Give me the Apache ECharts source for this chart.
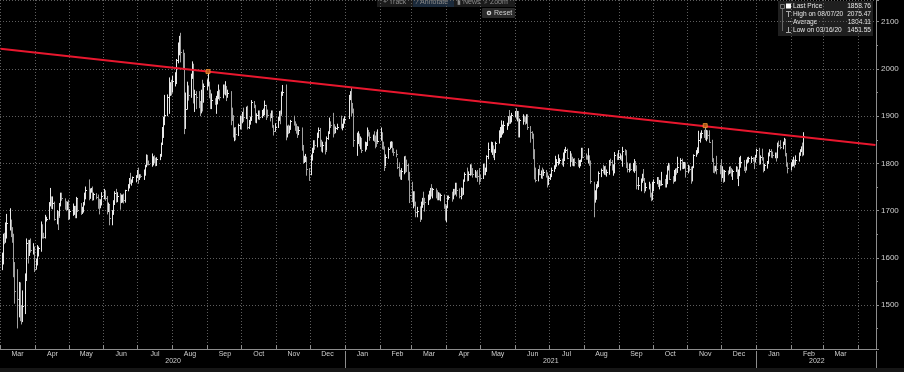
<!DOCTYPE html>
<html><head><meta charset="utf-8">
<script src="https://cdn.jsdelivr.net/npm/echarts@6/dist/echarts.min.js"></script>
<style>html,body{margin:0;padding:0;background:#000;}#c{width:904px;height:372px;}</style>
</head><body><div id="c"></div>
<script>
// ---------- tick labels ----------
const monthNames = ['Jan','Feb','Mar','Apr','May','Jun','Jul','Aug','Sep','Oct','Nov','Dec'];
const yearLabels = ['2020','2021','2022'];
const axisStart = '2020-03-01';
const axisEnd = '2022-04-16';
const firstBarDate = '2020-03-02'; // one value per weekday from here (null = no trading)

// ---------- daily closes (weekday rows) ----------
const closes = [
1595,1640,1637,1670,1673, 1676,1650,1642,1576,1530, 1513,1526,1477,1470,1498, 1553,1631,1611,1629,1617,
1621,1577,1591,1613,1620, 1663,1647,1645,1683,1683, 1714,1727,1716,1717,1683, 1695,1686,1714,1729,1726,
1713,1707,1714,1686,1700, 1701,1705,1686,1726,1702, 1697,1702,1716,1730,1743, 1731,1745,1746,1725,1735,
1729,1711,1708,1718,1730, 1740,1727,1700,1714,1684, 1698,1715,1737,1727,1730, 1725,1727,1727,1723,1743,
1754,1768,1761,1763,1771, 1772,1781,1770,1775,1774, 1783,1795,1809,1803,1799, 1803,1810,1808,1796,1810,
1817,1842,1871,1887,1902, 1941,1957,1970,1959,1975, 1976,2019,2037,2063,2035, 2028,1911,1915,1954,1944,
1985,2003,1929,1947,1940, 1929,1908,1953,1930,1964, 1968,1970,1943,1930,1934, 1931,1931,1946,1947,1940,
1957,1954,1960,1944,1950, 1912,1900,1863,1868,1862, 1881,1898,1887,1906,1899, 1913,1878,1888,1893,1930,
1922,1891,1902,1908,1899, 1905,1907,1924,1904,1902, 1901,1908,1877,1868,1878, 1894,1909,1903,1948,1951,
1862,1877,1866,1877,1889, 1887,1880,1870,1866,1871, 1837,1806,1810,1812,1788, 1777,1815,1830,1841,1839,
1863,1871,1839,1836,1840, 1827,1854,1864,1886,1881, 1872,1871,1875,1877,null, 1876,1877,1893,1895,null,
1943,1950,1918,1913,1849, 1850,1855,1846,1851,1828, 1839,1840,1871,1865,1855, 1855,1850,1844,1843,1847,
1860,1836,1834,1793,1814, 1831,1838,1842,1825,1824, 1819,1793,1776,1775,1784, 1808,1805,1797,1770,1734,
1723,1737,1711,1698,1700, 1683,1716,1726,1722,1719, 1731,1731,1745,1735,1745, 1738,1727,1734,1725,1733,
1712,1684,1708,1728,1729, 1728,1743,1737,1756,1744, 1732,1746,1736,1764,1777, 1770,1778,1793,1783,1777,
1780,1777,1774,1772,1769, 1792,1779,1785,1815,1831, 1836,1836,1815,1826,1844, 1867,1869,1870,1876,1881,
1881,1898,1896,1896,1903, 1906,1903,1908,1871,1891, 1899,1893,1888,1898,1877, 1866,1859,1812,1774,1764,
1782,1778,1779,1776,1781, 1780,1761,1770,1776,1787, 1792,1796,1803,1803,1808, 1806,1808,1825,1828,1812,
1814,1811,1803,1806,1802, 1797,1799,1806,1829,1814, 1813,1810,1812,1804,1763, 1729,1730,1752,1753,1780,
1787,1786,1787,1781,1781, 1805,1803,1790,1792,1818, 1810,1813,1815,1809,1827, 1823,1794,1788,1795,1788,
1794,1803,1794,1754,1754, 1764,1774,1768,1743,1750, 1751,1734,1726,1757,1761, 1769,1760,1762,1756,1757,
1754,1760,1793,1796,1768, 1765,1769,1783,1782,1792, 1807,1793,1798,1799,1783, 1793,1788,1769,1792,1818,
1824,1832,1849,1862,1865, 1863,1851,1869,1860,1846, 1806,1789,1788,1790,1788, 1785,1774,1782,1763,1783,
1779,1785,1783,1775,1783, 1787,1770,1778,1798,1804, 1791,1789,1803,1808,1811, 1811,1810,1805,1815,1829,
1801,1814,1810,1789,1797, 1801,1819,1826,1821,1817, 1819,1813,1840,1839,1835, 1843,1848,1819,1797,1791,
1797,1801,1807,1805,1808, 1820,1826,1833,1827,1858.76
];
// ---------- daily highs ----------
const highs = [
1610,1650,1652,1674,1692, 1704,1680,1664,1650,1590, 1575,1548,1547,1499,1530, 1566,1640,1637,1637,1640,
1630,1623,1597,1626,1623, 1676,1670,1652,1690,1686, 1717,1747,1729,1729,1718, 1700,1698,1715,1737,1737,
1725,1719,1718,1722,1702, 1714,1709,1709,1728,1724, 1715,1707,1717,1737,1750, 1765,1746,1747,1750,1737,
1736,1733,1724,1723,1738, 1745,1742,1730,1716,1712, 1700,1721,1740,1745,1738, 1736,1733,1733,1735,1743,
1755,1768,1779,1765,1771, 1774,1785,1790,1776,1776, 1786,1796,1818,1817,1805, 1820,1814,1816,1811,1812,
1819,1843,1876,1898,1944, 1945,1981,1971,1976,1984, 1992,2020,2055,2069,2075.47, 2040,2033,1949,1972,1964,
1989,2015,2010,1955,1952, 1952,1931,1955,1976,1968, 1977,1992,1972,1955,1947, 1937,1942,1952,1966,1955,
1966,1966,1973,1963,1955, 1952,1917,1901,1875,1876, 1883,1900,1900,1908,1917, 1919,1921,1891,1898,1933,
1931,1923,1905,1911,1911, 1912,1915,1932,1923,1913, 1905,1911,1911,1880,1884, 1898,1910,1911,1951,1965,
1966,1879,1881,1879,1891, 1900,1888,1883,1878,1877, 1875,1838,1815,1819,1813, 1789,1818,1832,1848,1848,
1864,1875,1874,1849,1845, 1845,1856,1867,1896,1888, 1906,1882,1877,1883,null, 1900,1883,1894,1899,null,
1944,1952,1959,1927,1915, 1864,1867,1862,1856,1853, 1845,1844,1875,1870,1865, 1860,1867,1858,1866,1871,
1875,1865,1845,1835,1818, 1833,1845,1846,1845,1831, 1828,1810,1801,1785,1789, 1814,1815,1807,1798,1781,
1760,1740,1740,1718,1707, 1708,1718,1726,1739,1726, 1733,1741,1747,1755,1747, 1746,1742,1738,1737,1735,
1733,1713,1710,1731,1731, 1739,1745,1745,1758,1758, 1746,1748,1747,1765,1780, 1790,1782,1797,1797,1789,
1785,1782,1785,1789,1775, 1798,1799,1790,1816,1843, 1845,1844,1837,1829,1845, 1869,1876,1890,1881,1889,
1885,1899,1912,1900,1906, 1910,1916,1910,1910,1894, 1903,1900,1897,1903,1903, 1878,1867,1862,1829,1790,
1787,1795,1784,1790,1786, 1785,1780,1773,1777,1790, 1795,1815,1808,1818,1810, 1809,1822,1829,1834,1830,
1825,1820,1813,1809,1810, 1810,1806,1807,1832,1832, 1820,1816,1831,1816,1805, 1760,1742,1755,1761,1782,
1788,1796,1793,1794,1786, 1806,1809,1806,1797,1823, 1820,1827,1820,1816,1834, 1829,1827,1801,1799,1800,
1800,1808,1804,1795,1770, 1767,1777,1787,1768,1758, 1760,1756,1737,1760,1765, 1770,1770,1764,1763,1781,
1766,1775,1794,1800,1797, 1772,1785,1788,1789,1813, 1810,1809,1802,1802,1801, 1796,1794,1792,1793,1818,
1827,1833,1868,1864,1869, 1870,1877,1870,1869,1869, 1849,1810,1794,1794,1815, 1796,1808,1793,1786,1785,
1784,1792,1793,1789,1786, 1793,1792,1786,1812,1815, 1806,1792,1807,1812,1813, 1814,1812,1812,1817,1830,
1832,1816,1830,1812,1798, 1804,1822,1829,1829,1824, 1822,1822,1843,1847,1848, 1845,1853,1851,1821,1801,
1801,1807,1813,1807,1816, 1822,1829,1835,1843,1865
];
// ---------- daily lows ----------
const lows = [
1575,1587,1630,1633,1642, 1659,1645,1633,1560,1504, 1451.55,1475,1467,1460,1465, 1482,1552,1589,1605,1612,
1608,1571,1576,1585,1604, 1614,1642,1642,1642,1678, 1682,1710,1705,1704,1680, 1672,1660,1688,1710,1722,
1703,1700,1702,1681,1683, 1690,1692,1685,1685,1698, 1692,1694,1697,1712,1725, 1723,1726,1739,1722,1723,
1725,1705,1693,1706,1712, 1725,1722,1693,1698,1670, 1670,1692,1715,1718,1719, 1703,1717,1718,1716,1718,
1742,1748,1757,1754,1760, 1761,1770,1758,1766,1770, 1766,1775,1793,1797,1797, 1794,1797,1801,1795,1796,
1808,1815,1840,1855,1882, 1901,1906,1944,1945,1951, 1964,1969,2013,2030,2015, 1999,1863,1874,1915,1934,
1940,1980,1928,1910,1916, 1918,1901,1907,1911,1931, 1956,1964,1939,1916,1916, 1925,1906,1926,1937,1934,
1939,1947,1945,1933,1940, 1882,1891,1856,1848,1850, 1859,1873,1873,1886,1889, 1895,1873,1874,1883,1891,
1918,1887,1886,1894,1893, 1897,1901,1903,1893,1898, 1890,1897,1877,1860,1868, 1876,1891,1884,1904,1944,
1850,1856,1863,1865,1872, 1881,1870,1864,1855,1861, 1828,1800,1802,1804,1775, 1764,1776,1807,1823,1830,
1835,1855,1836,1826,1824, 1820,1828,1851,1864,1876, 1856,1863,1865,1872,null, 1875,1871,1876,1885,null,
1895,1935,1901,1907,1836, 1817,1842,1837,1831,1823, 1826,1830,1838,1858,1849, 1849,1847,1833,1836,1845,
1849,1831,1830,1785,1795, 1811,1831,1834,1824,1817, 1814,1789,1773,1767,1766, 1778,1781,1783,1765,1717,
1719,1706,1710,1687,1687, 1677,1683,1707,1713,1699, 1713,1723,1725,1731,1727, 1727,1723,1723,1723,1721,
1705,1680,1677,1706,1724, 1720,1725,1733,1735,1731, 1727,1725,1732,1735,1762, 1763,1764,1775,1776,1771,
1771,1770,1762,1756,1762, 1768,1776,1776,1783,1810, 1824,1819,1813,1808,1823, 1843,1855,1856,1862,1865,
1872,1880,1884,1885,1888, 1899,1894,1890,1856,1856, 1883,1889,1883,1885,1872, 1845,1853,1810,1767,1761,
1763,1776,1769,1768,1775, 1771,1750,1755,1766,1772, 1783,1789,1794,1797,1800, 1797,1794,1806,1823,1810,
1794,1804,1796,1795,1795, 1794,1791,1795,1805,1812, 1809,1809,1801,1796,1758, 1687,1718,1724,1748,1751,
1772,1780,1777,1776,1773, 1777,1796,1786,1775,1780, 1808,1809,1809,1806,1794, 1818,1791,1782,1782,1785,
1784,1781,1785,1746,1745, 1742,1760,1764,1738,1742, 1746,1729,1721,1723,1742, 1757,1751,1746,1753,1754,
1750,1750,1757,1786,1766, 1758,1762,1763,1777,1781, 1786,1789,1789,1790,1771, 1780,1784,1758,1763,1791,
1815,1820,1823,1845,1854, 1855,1851,1848,1852,1845, 1804,1781,1780,1784,1778, 1778,1762,1770,1760,1763,
1776,1779,1780,1773,1766, 1783,1768,1753,1774,1792, 1785,1781,1786,1801,1803, 1802,1805,1789,1803,1813,
1798,1799,1807,1782,1785, 1790,1800,1816,1813,1812, 1812,1805,1812,1835,1831, 1831,1840,1816,1794,1780,
1786,1794,1795,1792,1798, 1805,1817,1825,1816,1818
];

// ---------- trend line, anchors, last price, legend ----------
const trendDates = ['2020-03-01', '2022-04-16'];
const trendValues = [2043, 1839];
const anchorDates = ['2020-09-01', '2021-11-16'];
const anchorValues = [1994.4, 1880];
const lastPrice = 1858.76;
const legendNames = ['Last Price', 'High on 08/07/20', 'Average', 'Low on 03/16/20'];
const legendValues = ['1858.76', '2075.47', '1804.11', '1451.55'];
const toolbarItems = ['+ Track', '\u2215 Annotate', '\u25AE News', '\u2315 Zoom'];

// ---------- calendar (category axis = every calendar day) ----------
function fmt(d) { return d.toISOString().slice(0, 10); }
const days = [];
for (let t = Date.parse(axisStart + 'T00:00:00Z'); t <= Date.parse(axisEnd + 'T00:00:00Z'); t += 86400000) days.push(fmt(new Date(t)));
const dayIndex = {};
days.forEach((d, i) => { dayIndex[d] = i; });
const barDays = [];
for (let t = Date.parse(firstBarDate + 'T00:00:00Z'); barDays.length < closes.length; t += 86400000) {
  const wd = new Date(t).getUTCDay();
  if (wd > 0 && wd < 6) barDays.push(fmt(new Date(t)));
}
const barData = [];
let prevClose = null;
closes.forEach((c, i) => {
  if (c == null) return;
  const up = prevClose == null || c >= prevClose ? 1 : 0;
  barData.push([dayIndex[barDays[i]], highs[i], lows[i], c, up]);
  prevClose = c;
});

const isMonthStart = (i) => days[i] && days[i].slice(8) === '01';
const isMonthLabel = (i) => days[i] && days[i].slice(8) === '16' && i < days.length - 1;
const yearStarts = yearLabels.map(y => Math.max(0, days.indexOf(y + '-01-01')));
const yearLabelIdx = yearStarts.map((s, k) => Math.floor((s + (k + 1 < yearStarts.length ? yearStarts[k + 1] : days.length)) / 2));
const isYearStart = (i) => days[i] && days[i].slice(5) === '01-01';

function renderBar(params, api) {
  const x = api.value(0);
  const pH = api.coord([x, api.value(1)]);
  const pL = api.coord([x, api.value(2)]);
  const pC = api.coord([x, api.value(3)]);
  const col = api.value(4) ? '#e8e8e8' : '#a0a0a0';
  const px = Math.round(pH[0]) + 0.5;
  const cy = Math.round(pC[1]) + 0.5;
  return {
    type: 'group',
    children: [
      { type: 'line', shape: { x1: px, y1: pH[1] - 0.5, x2: px, y2: pL[1] + 0.5 }, style: { stroke: col, lineWidth: 1 } },
      { type: 'line', shape: { x1: px, y1: cy, x2: px + 1.5, y2: cy }, style: { stroke: col, lineWidth: 1 } }
    ]
  };
}

const FONT = '"Liberation Sans", Arial, sans-serif';
const gridCol = '#5e5e5e';
const axisCol = '#8c8c8c';
const textCol = '#cfcfcf';

// legend graphic
const legendChildren = [
  { type: 'rect', shape: { x: 778, y: 1, width: 95, height: 35 }, style: { fill: 'rgba(34,34,34,0.92)' } },
  { type: 'line', shape: { x1: 782.5, y1: 9, x2: 782.5, y2: 31 }, style: { stroke: '#666', lineWidth: 1 } },
  { type: 'rect', shape: { x: 780.5, y: 4.5, width: 4, height: 4 }, style: { fill: 'none', stroke: '#777', lineWidth: 1 } },
  { type: 'rect', shape: { x: 786, y: 3.5, width: 5, height: 5 }, style: { fill: '#ffffff' } },
  { type: 'line', shape: { x1: 788.5, y1: 12, x2: 788.5, y2: 17 }, style: { stroke: '#aaa', lineWidth: 1 } },
  { type: 'line', shape: { x1: 786, y1: 11.5, x2: 791, y2: 11.5 }, style: { stroke: '#aaa', lineWidth: 1 } },
  { type: 'line', shape: { x1: 786, y1: 21.5, x2: 791, y2: 21.5 }, style: { stroke: '#aaa', lineWidth: 1, lineDash: [1, 1] } },
  { type: 'line', shape: { x1: 788.5, y1: 27, x2: 788.5, y2: 32 }, style: { stroke: '#aaa', lineWidth: 1 } },
  { type: 'line', shape: { x1: 786, y1: 32.5, x2: 791, y2: 32.5 }, style: { stroke: '#aaa', lineWidth: 1 } }
];
legendNames.forEach((n, i) => {
  const y = 6.5 + 8 * i;
  legendChildren.push({ type: 'text', style: { x: 793, y: y, text: n, fill: '#e6e6e6', font: '6.6px ' + FONT, verticalAlign: 'middle', align: 'left' } });
  legendChildren.push({ type: 'text', style: { x: 871, y: y, text: legendValues[i], fill: '#e6e6e6', font: '6.6px ' + FONT, verticalAlign: 'middle', align: 'right' } });
});

// toolbar graphic
const toolbarX = [383, 417, 457, 484];
const toolbarChildren = [
  { type: 'rect', shape: { x: 377, y: 0, width: 138, height: 7 }, style: { fill: '#1b1b1b' } },
  { type: 'rect', shape: { x: 413, y: 0, width: 41, height: 7 }, style: { fill: '#1b2a3b' } },
  { type: 'rect', shape: { x: 482, y: 8, width: 33, height: 10, r: 1 }, style: { fill: '#2a2a2a' } },
  { type: 'circle', shape: { cx: 489, cy: 13, r: 2.3 }, style: { fill: '#d0d0d0' } },
  { type: 'circle', shape: { cx: 489, cy: 13, r: 0.9 }, style: { fill: '#2a2a2a' } },
  { type: 'text', style: { x: 494, y: 13.5, text: 'Reset', fill: '#cfcfcf', font: '7px ' + FONT, verticalAlign: 'middle' } }
];
toolbarItems.forEach((t, i) => {
  toolbarChildren.push({ type: 'text', style: { x: toolbarX[i], y: 2.5, text: t, fill: '#8c8c8c', font: '7px ' + FONT, verticalAlign: 'middle' } });
});

const chart = echarts.init(document.getElementById('c'), null, { renderer: 'canvas' });
chart.setOption({
  backgroundColor: '#000000',
  animation: false,
  grid: { left: 0, right: 28, top: 0, bottom: 23, containLabel: false },
  xAxis: [
    {
      type: 'category', data: days, boundaryGap: true, position: 'bottom',
      axisLine: { show: true, lineStyle: { color: axisCol, width: 1 } },
      axisTick: { show: true, inside: true, length: 4, interval: isMonthStart, lineStyle: { color: axisCol } },
      axisLabel: {
        interval: isMonthLabel, margin: 2, color: textCol, fontSize: 7, fontFamily: FONT,
        hideOverlap: false,
        formatter: (v) => monthNames[parseInt(v.slice(5, 7), 10) - 1]
      },
      splitLine: { show: true, interval: isMonthStart, lineStyle: { color: gridCol, type: [1, 2], width: 1 } }
    },
    {
      type: 'category', data: days, boundaryGap: true, position: 'bottom', offset: 2,
      axisLine: { show: false },
      axisTick: { show: true, inside: false, length: 17, interval: isYearStart, lineStyle: { color: axisCol } },
      axisLabel: {
        interval: (i) => yearLabelIdx.indexOf(i) >= 0, margin: 7, color: textCol, fontSize: 7, fontFamily: FONT,
        hideOverlap: false,
        formatter: (v) => yearLabels.find(y => v.startsWith(y))
      },
      splitLine: { show: false }
    }
  ],
  yAxis: {
    type: 'value', position: 'right', min: 1407, max: 2146, splitNumber: 7, scale: true,
    axisLine: { show: true, lineStyle: { color: axisCol, width: 1 } },
    axisTick: { show: true, inside: false, length: 3, lineStyle: { color: axisCol } },
    minorTick: { show: true, splitNumber: 2, length: 2, lineStyle: { color: axisCol } },
    axisLabel: { color: textCol, fontSize: 8, fontFamily: FONT, margin: 5, showMinLabel: false, showMaxLabel: false,
      formatter: (v) => String(v) },
    splitLine: { show: true, lineStyle: { color: gridCol, type: [1, 2], width: 1 } }
  },
  series: [
    {
      type: 'custom', name: 'XAU', renderItem: renderBar, data: barData,
      encode: { x: 0, y: [1, 2] }, clip: true, z: 2
    },
    {
      type: 'line', name: 'Trend',
      data: trendDates.map((d, i) => [dayIndex[d], trendValues[i]]),
      symbol: 'none', lineStyle: { color: '#e8172e', width: 2 }, z: 3, silent: true,
      markLine: {
        silent: true, symbol: ['none', 'none'], animation: false,
        lineStyle: { opacity: 0 },
        data: [{ yAxis: lastPrice }],
        label: {
          position: 'end', distance: 2, formatter: () => lastPrice.toFixed(2),
          backgroundColor: '#f2f2f2', color: '#000', fontSize: 7.5, fontFamily: FONT,
          padding: [1, 2, 1, 2], borderRadius: 1
        }
      }
    },
    {
      type: 'scatter', name: 'Anchors',
      data: anchorDates.map((d, i) => [dayIndex[d], anchorValues[i]]),
      symbol: 'rect', symbolSize: 4, z: 4, silent: true,
      itemStyle: { color: '#b8641c', borderColor: '#ff9a30', borderWidth: 1 }
    }
  ],
  graphic: [
    { type: 'rect', z: 50, shape: { x: 0, y: 368, width: 904, height: 4 }, style: { fill: '#161616' } },
    { type: 'group', z: 60, children: legendChildren },
    { type: 'group', z: 60, children: toolbarChildren }
  ]
});
</script>
</body></html>
